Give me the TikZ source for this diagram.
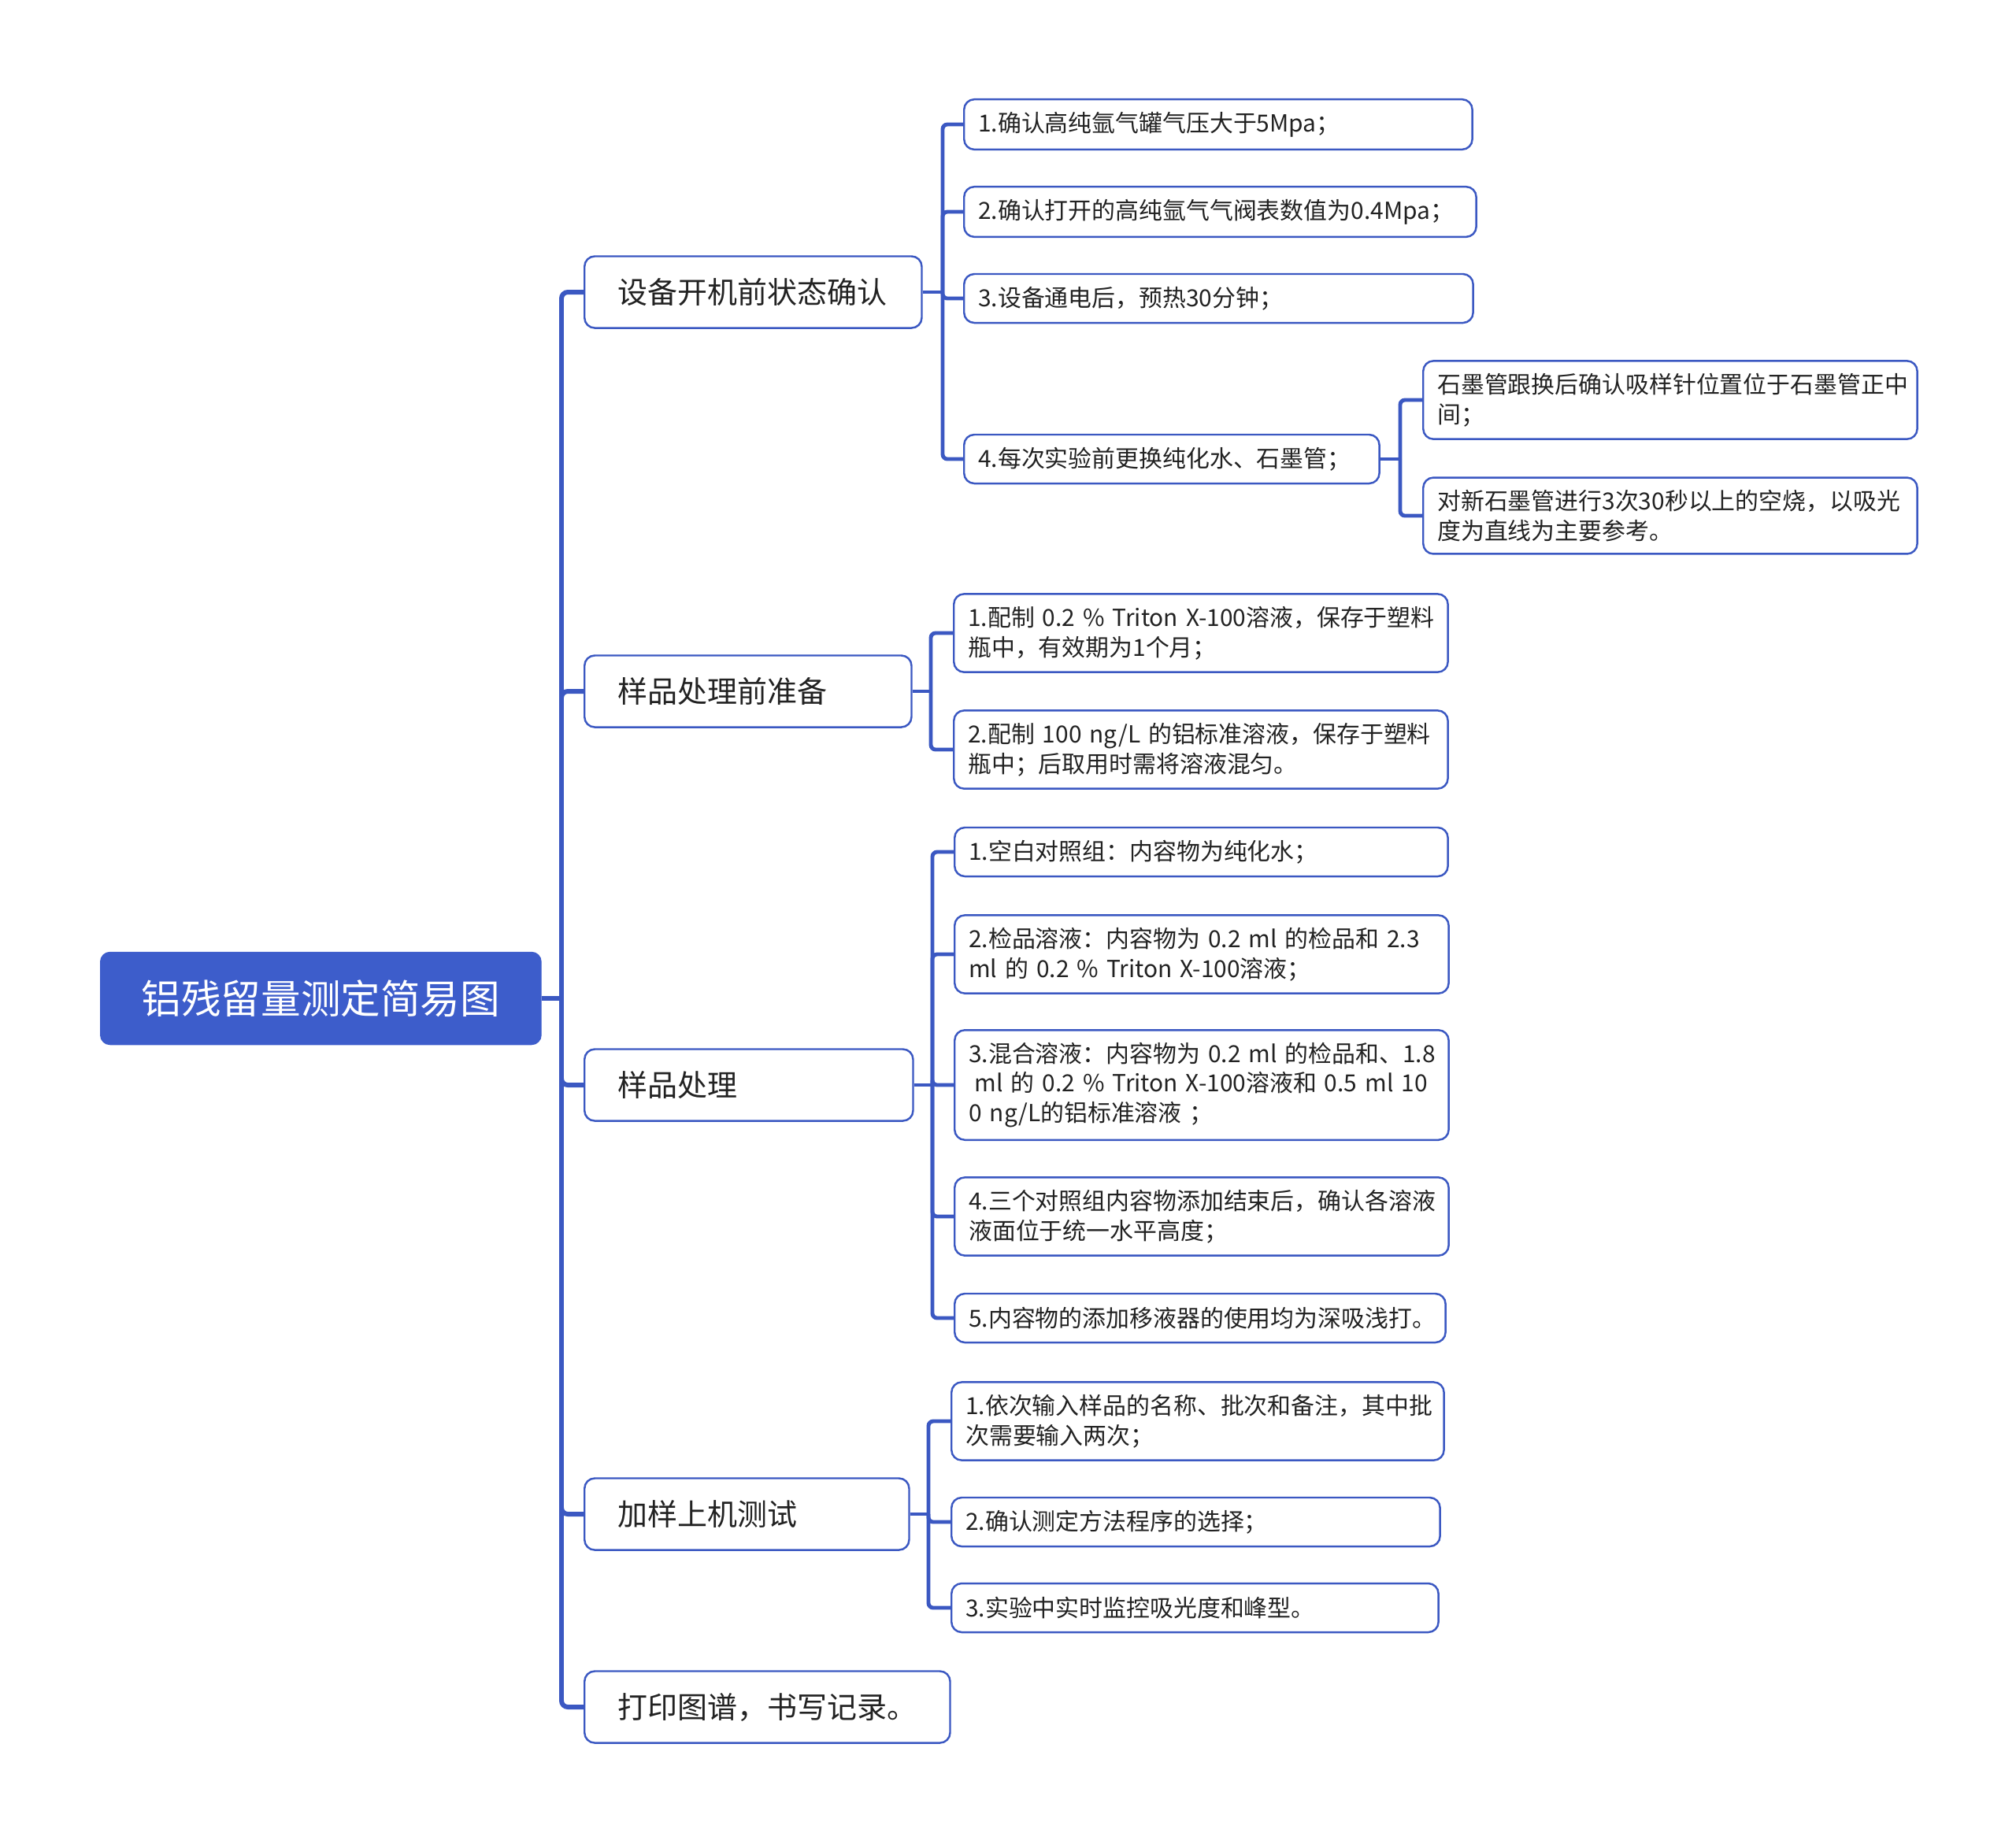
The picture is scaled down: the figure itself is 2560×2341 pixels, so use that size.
\documentclass[tikz,border=0pt]{standalone}
\usepackage{fontspec}
\setmainfont{Noto Sans CJK SC}
\usetikzlibrary{calc}
\definecolor{mapblue}{HTML}{3D5DCB}
\definecolor{lineblue}{HTML}{3B58C2}
\definecolor{txtgray}{HTML}{222222}
\hyphenpenalty=10000
\exhyphenpenalty=10000

\begin{document}
\begin{tikzpicture}[x=0.01cm, y=-0.01cm,
        rootbox/.style={rectangle, rounded corners=0.12cm, fill=mapblue, draw=mapblue,
            text=white, font=\fontsize{14.4}{17}\selectfont, anchor=west,
            minimum width=5.59cm, minimum height=1.17cm, inner sep=0pt},
        topicbox/.style={rectangle, rounded corners=0.13cm, draw=lineblue, line width=0.7pt,
            fill=white, text=txtgray, font=\fontsize{10.8}{13}\selectfont, align=left,
            anchor=west, inner xsep=0.42cm, minimum height=0.91cm},
        itembox/.style={rectangle, rounded corners=0.13cm, draw=lineblue, line width=0.7pt,
            fill=white, text=txtgray, font=\fontsize{8.5}{10.67}\selectfont, align=left,
            anchor=west, inner xsep=0.18cm, inner ysep=4.5pt, minimum height=0.62cm},
        trunk/.style={draw=lineblue, line width=1.7pt, rounded corners=0.08cm},
        twig/.style={draw=lineblue, line width=1.4pt, rounded corners=0.06cm}]

        \useasboundingbox (0,0) rectangle (2560,2341);

        % root and main topics
        \node[rootbox] (root) at (127,1268) {铝残留量测定简易图};
        \begin{scope}[every node/.style={topicbox}]
            \node[text width=3.44cm] (s1) at (741,371) {设备开机前状态确认};
            \node[text width=3.31cm] (s2) at (741,878) {样品处理前准备};
            \node[text width=3.33cm] (s3) at (741,1378) {样品处理};
            \node[text width=3.28cm] (s4) at (741,1923) {加样上机测试};
            \node[text width=3.80cm] (s5) at (741,2168) {打印图谱，书写记录。};
        \end{scope}

        % items
        \begin{scope}[every node/.style={itembox}]
            \node[text width=6.09cm] (a1) at (1223,158) {1.确认高纯氩气罐气压大于5Mpa；};
            \node[text width=6.14cm] (a2) at (1223,269) {2.确认打开的高纯氩气气阀表数值为0.4Mpa；};
            \node[text width=6.10cm] (a3) at (1223,379) {3.设备通电后，预热30分钟；};
            \node[text width=4.91cm] (a4) at (1223,583) {4.每次实验前更换纯化水、石墨管；};
            \node[text width=5.91cm] (a41) at (1806,508) {石墨管跟换后确认吸样针位置位于石墨管正中\\间；};
            \node[text width=5.91cm] (a42) at (1806,655) {对新石墨管进行3次30秒以上的空烧，以吸光\\度为直线为主要参考。};

            \node[text width=5.91cm] (b1) at (1210,804) {1.配制~0.2~\%~Triton~X-100溶液，保存于塑料\\瓶中，有效期为1个月；};
            \node[text width=5.91cm] (b2) at (1210,952) {2.配制~100~ng/L~的铝标准溶液，保存于塑料\\瓶中；后取用时需将溶液混匀。};

            \node[text width=5.90cm] (c1) at (1211,1082) {1.空白对照组：内容物为纯化水；};
            \node[text width=5.91cm] (c2) at (1211,1212) {2.检品溶液：内容物为~0.2~ml~的检品和~2.3\\ml~的~0.2~\%~Triton~X-100溶液；};
            \node[text width=5.91cm] (c3) at (1211,1378) {3.混合溶液：内容物为~0.2~ml~的检品和、1.8\\\hspace*{0.25em}ml~的~0.2~\%~Triton~X-100溶液和~0.5~ml~10\\0~ng/L的铝标准溶液~；};
            \node[text width=5.91cm] (c4) at (1211,1545) {4.三个对照组内容物添加结束后，确认各溶液\\液面位于统一水平高度；};
            \node[text width=5.87cm] (c5) at (1211,1674) {5.内容物的添加移液器的使用均为深吸浅打。};

            \node[text width=5.89cm] (d1) at (1207,1805) {1.依次输入样品的名称、批次和备注，其中批\\次需要输入两次；};
            \node[text width=5.84cm] (d2) at (1207,1933) {2.确认测定方法程序的选择；};
            \node[text width=5.82cm] (d3) at (1207,2042) {3.实验中实时监控吸光度和峰型。};
        \end{scope}

        % junctions
        \coordinate (j0) at (713,1268);
        \coordinate (j1) at (1197,371);
        \coordinate (j2) at (1182,878);
        \coordinate (j3) at (1184,1378);
        \coordinate (j4) at (1179,1923);
        \coordinate (j41) at (1778,583);

        % connectors
        \draw[trunk] (root.east) -- (j0);
        \foreach \t in {s1,s2,s3,s4,s5}
            \draw[trunk] (j0) |- (\t.west);

        \draw[twig] (s1.east) -- (j1);
        \foreach \c in {a1,a2,a3,a4}
            \draw[twig] (j1) |- (\c.west);
        \draw[twig] (a4.east) -- (j41);
        \foreach \c in {a41,a42}
            \draw[twig] (j41) |- (\c.west);

        \draw[twig] (s2.east) -- (j2);
        \foreach \c in {b1,b2}
            \draw[twig] (j2) |- (\c.west);

        \draw[twig] (s3.east) -- (j3);
        \foreach \c in {c1,c2,c3,c4,c5}
            \draw[twig] (j3) |- (\c.west);

        \draw[twig] (s4.east) -- (j4);
        \foreach \c in {d1,d2,d3}
            \draw[twig] (j4) |- (\c.west);
    \end{tikzpicture}
\end{document}
